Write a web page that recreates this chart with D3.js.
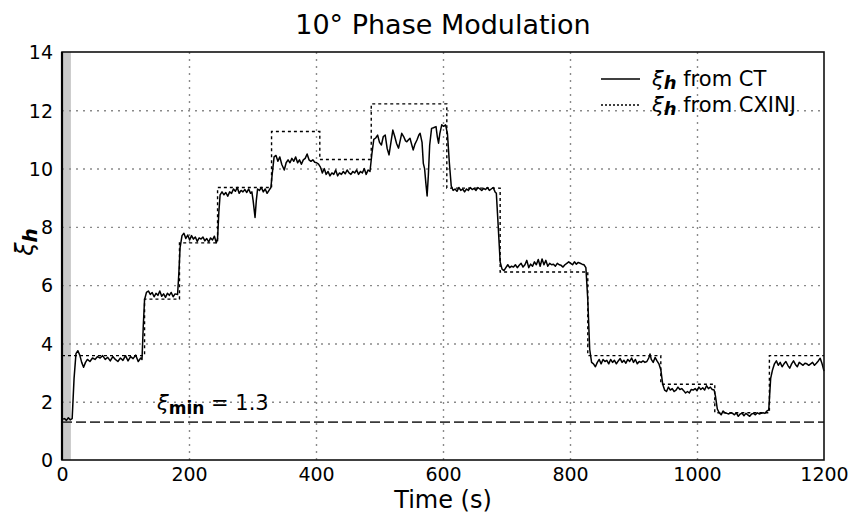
<!DOCTYPE html>
<html><head><meta charset="utf-8">
<script src="https://cdn.jsdelivr.net/npm/d3@7"></script>
<style>body{margin:0;background:#fff}svg{display:block}text{font-family:"DejaVu Sans",Verdana,sans-serif;fill:#000}</style>
</head><body><svg id="chart" width="849" height="517"></svg>
<script>
const xTicks=[0,200,400,600,800,1000,1200];
const yTicks=[0,2,4,6,8,10,12,14];
const xiMin=1.3;
const shadeEnd=14;
// CXINJ step levels: level i holds from cxTime[i] to cxTime[i+1]
const cxTime=[0,130,185,245,330,406,487,606,690,828,943,1028,1114,1200];
const cxLevel=[3.58,5.52,7.45,9.35,11.27,10.31,12.22,9.33,6.45,3.58,2.60,1.62,3.58];
// CT measurement [time s, xi_h]
const ctSeries=[
[0,1.40],[4,1.42],[7,1.36],[10,1.45],[13,1.38],[16,1.42],[19,2.8],[22,3.65],[25,3.75],[28,3.6],[31,3.35],[34,3.18],[37,3.35],[40,3.45],[44,3.38],[48,3.5],[52,3.45],[56,3.55],[60,3.5],[64,3.58],[68,3.45],[72,3.52],[76,3.4],[80,3.55],[84,3.45],[88,3.38],[92,3.5],[96,3.42],[100,3.58],[104,3.4],[108,3.55],[112,3.48],[116,3.6],[120,3.38],[124,3.5],[126,3.45],
[128,4.6],[130,5.5],[133,5.75],[136,5.8],[139,5.68],[142,5.75],[145,5.6],[148,5.72],[151,5.65],[154,5.8],[157,5.62],[160,5.7],[163,5.58],[166,5.72],[169,5.65],[172,5.75],[175,5.6],[178,5.7],[182,5.68],
[184,6.4],[186,7.3],[189,7.7],[192,7.78],[195,7.6],[198,7.72],[201,7.55],[204,7.7],[207,7.58],[210,7.65],[213,7.5],[216,7.62],[219,7.58],[222,7.65],[225,7.52],[228,7.6],[231,7.48],[234,7.62],[237,7.55],[240,7.68],[243,7.45],[245,7.6],
[247,8.5],[249,9.1],[252,9.2],[255,9.1],[258,9.18],[261,9.05],[264,9.2],[267,9.15],[270,9.3],[273,9.22],[276,9.35],[279,9.15],[282,9.25],[285,9.2],[288,9.28],[291,9.18],[294,9.3],[297,9.15],[299,9.2],[301,8.9],[304,8.32],[306,8.9],[308,9.3],[311,9.25],[314,9.35],[317,9.2],[320,9.3],[323,9.15],[326,9.25],[329,9.35],
[331,9.8],[334,10.4],[337,10.45],[340,10.25],[343,10.4],[346,10.15],[350,9.95],[353,10.2],[356,10.3],[359,10.2],[362,10.35],[365,10.25],[368,10.4],[371,10.2],[374,10.3],[377,10.15],[380,10.3],[383,10.35],[386,10.5],[389,10.3],[392,10.25],[395,10.3],[398,10.22],[401,10.2],[404,10.15],[407,10.05],
[410,9.85],[413,10.0],[416,9.8],[419,9.9],[422,9.75],[425,9.85],[428,9.8],[431,9.95],[434,9.75],[437,9.85],[440,9.8],[443,9.9],[446,9.82],[449,9.95],[452,9.85],[455,9.8],[458,9.9],[461,9.85],[464,9.95],[467,9.8],[470,9.9],[473,9.85],[476,10.0],[479,9.8],[482,9.95],[485,9.9],
[488,10.5],[491,11.0],[494,11.05],[497,11.15],[500,10.9],[503,10.81],[506,11.1],[509,11.15],[512,10.7],[515,10.47],[518,10.9],[521,11.32],[524,11.1],[527,10.85],[530,10.7],[533,11.0],[535,11.21],[538,11.1],[541,10.95],[543,10.92],[546,11.0],[548,11.04],[551,10.8],[553,10.64],[556,10.85],[559,10.98],[562,11.15],[564,11.21],[567,10.9],[569,10.18],[571,10.0],[573,9.5],[575,9.06],[577,9.8],[579,10.8],[582,11.38],[585,11.4],[589,11.44],[591,11.1],[593,10.87],[595,11.2],[598,11.5],[601,11.45],[604,11.5],[607,11.2],
[610,10.2],[613,9.4],[616,9.25],[619,9.3],[622,9.22],[625,9.35],[628,9.25],[631,9.3],[634,9.2],[637,9.3],[640,9.25],[643,9.35],[646,9.28],[649,9.32],[652,9.25],[655,9.35],[658,9.3],[661,9.25],[664,9.32],[667,9.28],[670,9.35],[673,9.25],[676,9.3],[679,9.35],[682,9.2],[684,9.15],
[687,8.0],[690,6.8],[693,6.55],[696,6.5],[699,6.6],[702,6.7],[705,6.6],[708,6.65],[711,6.62],[714,6.7],[717,6.6],[720,6.68],[723,6.75],[726,6.62],[729,6.7],[732,6.85],[735,6.6],[738,6.72],[741,6.65],[744,6.8],[747,6.7],[750,6.88],[753,6.65],[756,6.9],[759,6.7],[762,6.85],[765,6.65],[768,6.75],[771,6.7],[774,6.72],[777,6.65],[780,6.75],[783,6.7],[786,6.68],[789,6.62],[792,6.7],[795,6.75],[798,6.8],[801,6.75],[804,6.7],[807,6.8],[810,6.72],[813,6.78],[816,6.75],[819,6.72],[822,6.7],[825,6.6],
[828,5.5],[831,3.8],[834,3.35],[837,3.3],[840,3.2],[843,3.35],[846,3.45],[849,3.3],[852,3.45],[855,3.38],[858,3.42],[861,3.3],[864,3.45],[867,3.35],[870,3.42],[873,3.3],[876,3.4],[879,3.48],[882,3.35],[885,3.42],[888,3.32],[891,3.45],[894,3.38],[897,3.5],[900,3.35],[903,3.45],[906,3.3],[909,3.38],[912,3.35],[915,3.4],[918,3.35],[921,3.38],[924,3.5],[926,3.64],[928,3.45],[931,3.35],[934,3.52],[937,3.4],[940,3.3],
[943,3.1],[946,2.6],[949,2.4],[952,2.35],[955,2.5],[958,2.4],[961,2.45],[964,2.35],[967,2.4],[970,2.5],[973,2.42],[976,2.45],[979,2.38],[982,2.3],[985,2.35],[988,2.3],[991,2.42],[994,2.4],[997,2.45],[1000,2.38],[1003,2.5],[1006,2.42],[1009,2.48],[1012,2.4],[1015,2.55],[1018,2.45],[1021,2.5],[1024,2.42],[1027,2.4],
[1029,2.2],[1032,1.75],[1035,1.62],[1038,1.55],[1041,1.68],[1044,1.62],[1047,1.6],[1050,1.58],[1053,1.62],[1056,1.6],[1059,1.55],[1062,1.62],[1065,1.5],[1068,1.58],[1071,1.6],[1074,1.52],[1077,1.6],[1080,1.55],[1083,1.5],[1086,1.58],[1089,1.6],[1092,1.55],[1095,1.62],[1098,1.58],[1101,1.6],[1104,1.62],[1107,1.6],[1110,1.68],[1113,1.72],
[1116,2.8],[1119,3.1],[1122,3.3],[1125,3.4],[1128,3.25],[1131,3.35],[1134,3.2],[1137,3.3],[1140,3.38],[1143,3.25],[1146,3.15],[1149,3.3],[1152,3.4],[1155,3.28],[1158,3.2],[1161,3.35],[1164,3.3],[1167,3.25],[1170,3.32],[1173,3.3],[1176,3.25],[1179,3.3],[1182,3.35],[1185,3.25],[1188,3.32],[1191,3.4],[1194,3.49],[1197,3.3],[1200,3.05]
];

const FONT='"DejaVu Sans",Verdana,sans-serif';
const svg=d3.select("#chart");
const M={l:62,r:824,t:52,b:460};
const x=d3.scaleLinear().domain([0,1200]).range([M.l,M.r]);
const y=d3.scaleLinear().domain([0,14]).range([M.b,M.t]);

// shaded band
svg.append("rect").attr("x",x(0)).attr("y",y(14)).attr("width",x(shadeEnd)-x(0)).attr("height",y(0)-y(14)).attr("fill","#c8c8c8");

// grid
const gridX=svg.append("g").attr("transform",`translate(0,${M.b})`)
  .call(d3.axisBottom(x).tickValues(xTicks.filter(d=>d>0&&d<1200)).tickSize(-(M.b-M.t)).tickFormat(""));
gridX.select(".domain").remove();
gridX.selectAll("line").attr("stroke","#8a8a8a").attr("stroke-width",1.4).attr("stroke-dasharray","2,5");
const gridY=svg.append("g").attr("transform",`translate(${M.l},0)`)
  .call(d3.axisLeft(y).tickValues(yTicks.filter(d=>d>0&&d<14)).tickSize(-(M.r-M.l)).tickFormat(""));
gridY.select(".domain").remove();
gridY.selectAll("line").attr("stroke","#8a8a8a").attr("stroke-width",1.4).attr("stroke-dasharray","2,5");

// tick labels
const ax=svg.append("g").attr("transform",`translate(0,${M.b})`)
  .call(d3.axisBottom(x).tickValues(xTicks).tickSize(0).tickPadding(0).tickFormat(d3.format("d")));
ax.select(".domain").remove();
ax.selectAll("text").attr("y",21).attr("dy",null).style("font-size","19px");
const ay=svg.append("g").attr("transform",`translate(${M.l},0)`)
  .call(d3.axisLeft(y).tickValues(yTicks).tickSize(0).tickPadding(9).tickFormat(d3.format("d")));
ay.select(".domain").remove();
ay.selectAll("text").attr("dy","0.36em").style("font-size","19px");
svg.selectAll(".tick text").attr("font-family",null).style("font-family",FONT);

// xi_min line
svg.append("line").attr("x1",x(0)).attr("x2",x(1200)).attr("y1",y(xiMin)).attr("y2",y(xiMin))
  .attr("stroke","#3a3a3a").attr("stroke-width",1.6).attr("stroke-dasharray","10,4");

// CXINJ step
const cxPts=cxTime.map((t,i)=>[t,cxLevel[Math.min(i,cxLevel.length-1)]]);
svg.append("path").datum(cxPts)
  .attr("d",d3.line().x(d=>x(d[0])).y(d=>y(d[1])).curve(d3.curveStepAfter))
  .attr("fill","none").attr("stroke","#000").attr("stroke-width",1.4).attr("stroke-dasharray","3,3");

// CT line
svg.append("path").datum(ctSeries)
  .attr("d",d3.line().x(d=>x(d[0])).y(d=>y(d[1])))
  .attr("fill","none").attr("stroke","#000").attr("stroke-width",1.5).attr("stroke-linejoin","round");

// frame
svg.append("rect").attr("x",M.l).attr("y",M.t).attr("width",M.r-M.l).attr("height",M.b-M.t)
  .attr("fill","none").attr("stroke","#111").attr("stroke-width",1.6);
svg.append("line").attr("x1",M.l).attr("x2",M.l).attr("y1",M.t).attr("y2",M.b).attr("stroke","#000").attr("stroke-width",2.2);

// xi_min label
const lm=svg.append("text").attr("x",157).attr("y",410).style("font-size","21px");
lm.append("tspan").text("ξ").style("font-style","italic");
lm.append("tspan").text("min").attr("dy",4).style("font-size","17px").style("font-weight","bold");
lm.append("tspan").text(" = 1.3").attr("dy",-4);

// legend
const legRows=[{y:79,dash:null,label:"from CT"},{y:105,dash:"2,2",label:"from CXINJ"}];
legRows.forEach(r=>{
  svg.append("line").attr("x1",601).attr("x2",640).attr("y1",r.y).attr("y2",r.y)
    .attr("stroke","#000").attr("stroke-width",1.4).attr("stroke-dasharray",r.dash);
  const t=svg.append("text").attr("x",652).attr("y",r.y+7).style("font-size","21px");
  t.append("tspan").text("ξ").style("font-style","italic");
  t.append("tspan").text("h").attr("dy",3).style("font-style","italic").style("font-weight","bold").style("font-size","18px");
  t.append("tspan").text(" "+r.label).attr("dy",-3);
});

// titles
svg.append("text").attr("x",(M.l+M.r)/2).attr("y",34).attr("text-anchor","middle").style("font-size","27px").text("10° Phase Modulation");
svg.append("text").attr("x",(M.l+M.r)/2).attr("y",508).attr("text-anchor","middle").style("font-size","24px").text("Time (s)");
const yl=svg.append("text").attr("transform",`translate(33,242) rotate(-90)`).attr("text-anchor","middle").style("font-size","24px");
yl.append("tspan").text("ξ").style("font-style","italic");
yl.append("tspan").text("h").attr("dy",4).style("font-style","italic").style("font-weight","bold").style("font-size","20px");
</script></body></html>
